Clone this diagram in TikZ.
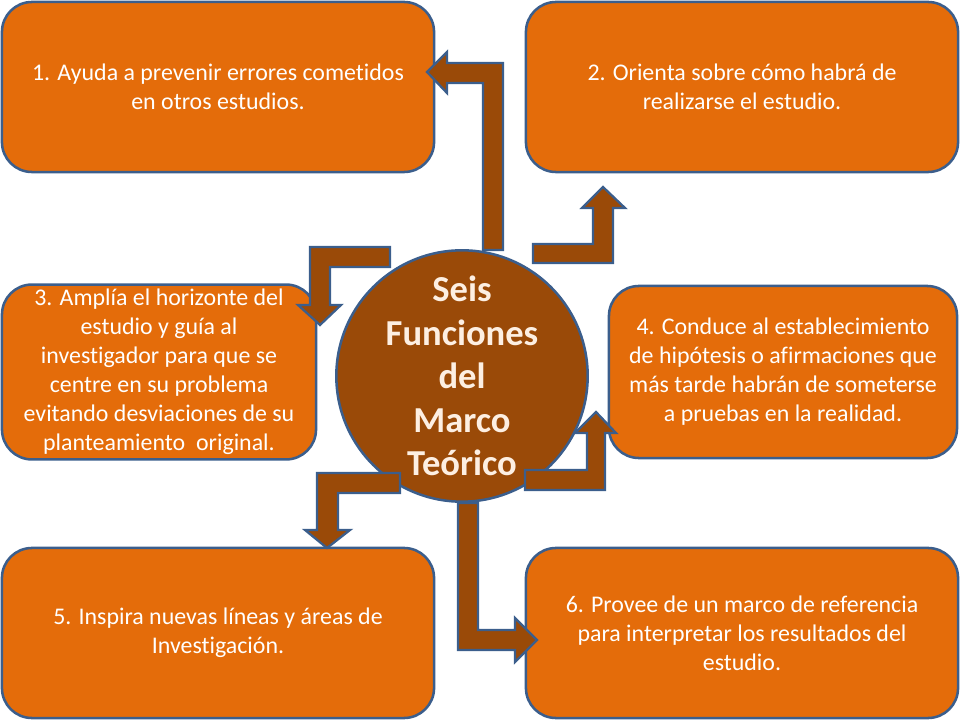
\documentclass[tikz,border=0pt]{standalone}
\usepackage{fontspec}
\setmainfont{Carlito}[Ligatures=NoCommon]
\usepackage{tikz}
\usetikzlibrary{positioning}
\definecolor{boxorange}{HTML}{E46C0A}
\definecolor{edgeblue}{HTML}{3B5E8C}
\definecolor{arrowbrown}{HTML}{9A4A08}
\definecolor{softcream}{HTML}{FDEFE2}
\tikzstyle{block} = [rectangle, draw=edgeblue, line width=1.8pt, fill=boxorange,
    text=white, align=center, rounded corners=0.75cm,
    font=\fontsize{17}{20.6}\selectfont]
\tikzstyle{hub} = [circle, draw=edgeblue, line width=1.8pt, fill=arrowbrown,
    text=softcream, align=center, minimum size=6.1cm, inner sep=0pt,
    font=\fontsize{26}{31}\selectfont\bfseries]
\tikzstyle{bent} = [draw=edgeblue, line width=1.6pt, fill=arrowbrown, line join=miter]

\begin{document}
\begin{tikzpicture}[x=0.025cm, y=-0.025cm]
  \useasboundingbox (0,0) rectangle (960,720);
   % Place nodes
    \node [block, minimum width=10.8cm, minimum height=4.25cm] (fun1) at (218,87)
      {1. Ayuda a prevenir errores cometidos\\en otros estudios.};
    \node [block, minimum width=10.8cm, minimum height=4.25cm] (fun2) at (742,87)
      {2. Orienta sobre cómo habrá de\\realizarse el estudio.};
    \node [block, minimum width=7.85cm, minimum height=4.3cm] (fun3) at (159,372)
      {3. Amplía el horizonte del\\estudio y guía al\\investigador para que se\\centre en su problema\\evitando desviaciones de su\\planteamiento~ original.};
    \node [block, minimum width=8.7cm, minimum height=4.3cm] (fun4) at (783,372)
      {4. Conduce al establecimiento\\de hipótesis o afirmaciones que\\más tarde habrán de someterse\\a pruebas en la realidad.};
    \node [block, minimum width=10.8cm, minimum height=4.25cm] (fun5) at (218,633)
      {5. Inspira nuevas líneas y áreas de\\Investigación.};
    \node [block, minimum width=10.8cm, minimum height=4.25cm] (fun6) at (742,633)
      {6. Provee de un marco de referencia\\para interpretar los resultados del\\estudio.};
    \node [hub] (centro) at (462,376) {Seis\\Funciones\\del\\Marco\\Teórico};
   % Draw bent arrows
    \path [bent] (483,250) -- (483,83) -- (447,83) -- (447,93) -- (427,72)
      -- (447,52) -- (447,63) -- (503,63) -- (503,250) -- cycle;
    \path [bent] (533,244) -- (593,244) -- (593,208) -- (582,208) -- (603,187)
      -- (625,208) -- (613,208) -- (613,263) -- (533,263) -- cycle;
    \path [bent] (390,247) -- (310,247) -- (310,305) -- (298,305) -- (320,325)
      -- (341,305) -- (330,305) -- (330,267) -- (390,267) -- cycle;
    \path [bent] (525,470) -- (587,470) -- (587,433) -- (575,433) -- (596,412)
      -- (616,433) -- (605,433) -- (605,490) -- (525,490) -- cycle;
    \path [bent] (400,473) -- (317,473) -- (317,530) -- (305,530) -- (327,548)
      -- (350,530) -- (338,530) -- (338,493) -- (400,493) -- cycle;
    \path [bent] (458,503) -- (458,650) -- (515,650) -- (515,662) -- (537,640)
      -- (515,618) -- (515,630) -- (478,630) -- (478,503) -- cycle;
\end{tikzpicture}
\end{document}
